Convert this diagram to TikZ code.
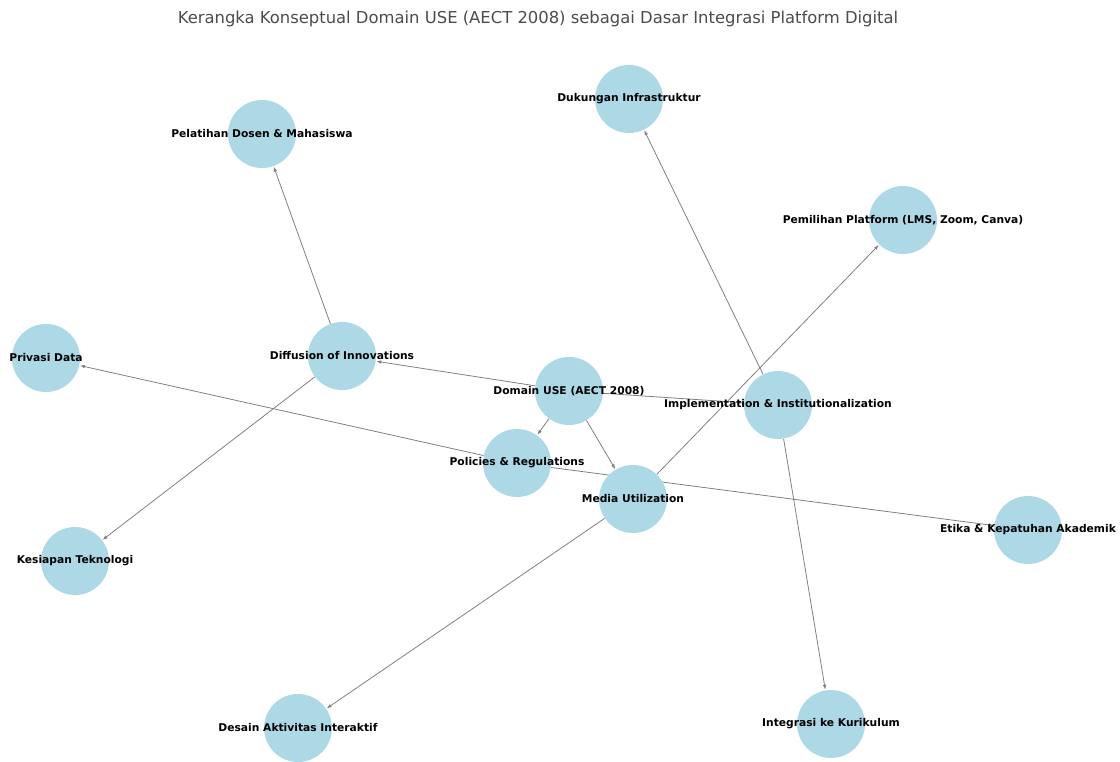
\documentclass[tikz,border=0pt]{standalone}
\usepackage{fontspec}
\setmainfont{DejaVu Sans}
\setsansfont{DejaVu Sans}
\usetikzlibrary{arrows.meta}
\definecolor{nodeblue}{HTML}{ADD8E6}
\definecolor{edgegray}{HTML}{808080}
\pgfdeclarelayer{edgelayer}
\pgfsetlayers{edgelayer,main}
\begin{document}
\begin{tikzpicture}[x=1pt,y=-1pt,
  vert/.style={circle,fill=nodeblue,draw=none,minimum size=68pt,inner sep=0pt},
  lab/.style={font=\sffamily\bfseries\fontsize{10.7}{12}\selectfont,text=black,inner sep=0pt},
  link/.style={draw=edgegray,line width=0.8pt,-{Latex[length=5pt,width=3.6pt]},shorten >=0.5pt}]
\useasboundingbox (0,0) rectangle (1120,762);
\node[font=\fontsize{16.4}{19}\selectfont,text=black!70] (title) at (538,19) {Kerangka Konseptual Domain USE (AECT 2008) sebagai Dasar Integrasi Platform Digital};
% circles
\node[vert] (duk) at (629,99) {};
\node[vert] (pel) at (262,134) {};
\node[vert] (pem) at (903,220) {};
\node[vert] (pri) at (46,358) {};
\node[vert] (dif) at (342,356) {};
\node[vert] (dom) at (569,391) {};
\node[vert] (imp) at (778,405) {};
\node[vert] (pol) at (517,463) {};
\node[vert] (med) at (633,499) {};
\node[vert] (eti) at (1028,530) {};
\node[vert] (kes) at (75,561) {};
\node[vert] (des) at (298,728) {};
\node[vert] (int) at (831,724) {};
% labels
\node[lab] (dukL) at (duk) {Dukungan Infrastruktur};
\node[lab] (pelL) at (pel) {Pelatihan Dosen \& Mahasiswa};
\node[lab] (pemL) at (pem) {Pemilihan Platform (LMS, Zoom, Canva)};
\node[lab] (priL) at (pri) {Privasi Data};
\node[lab] (difL) at (dif) {Diffusion of Innovations};
\node[lab] (domL) at (dom) {Domain USE (AECT 2008)};
\node[lab] (impL) at (imp) {Implementation \& Institutionalization};
\node[lab] (polL) at (pol) {Policies \& Regulations};
\node[lab] (medL) at (med) {Media Utilization};
\node[lab] (etiL) at (eti) {Etika \& Kepatuhan Akademik};
\node[lab] (kesL) at (kes) {Kesiapan Teknologi};
\node[lab] (desL) at (des) {Desain Aktivitas Interaktif};
\node[lab] (intL) at (int) {Integrasi ke Kurikulum};
% edges
\begin{pgfonlayer}{edgelayer}
\draw[link] (dom) -- (dif);
\draw[link] (dom) -- (pol);
\draw[link] (dom) -- (med);
\draw[link] (dom) -- (imp);
\draw[link] (dif) -- (pel);
\draw[link] (dif) -- (kes);
\draw[link] (imp) -- (duk);
\draw[link] (imp) -- (int);
\draw[link] (med) -- (pem);
\draw[link] (med) -- (des);
\draw[link] (pol) -- (pri);
\draw[link] (pol) -- (eti);
\end{pgfonlayer}
\end{tikzpicture}
\end{document}
